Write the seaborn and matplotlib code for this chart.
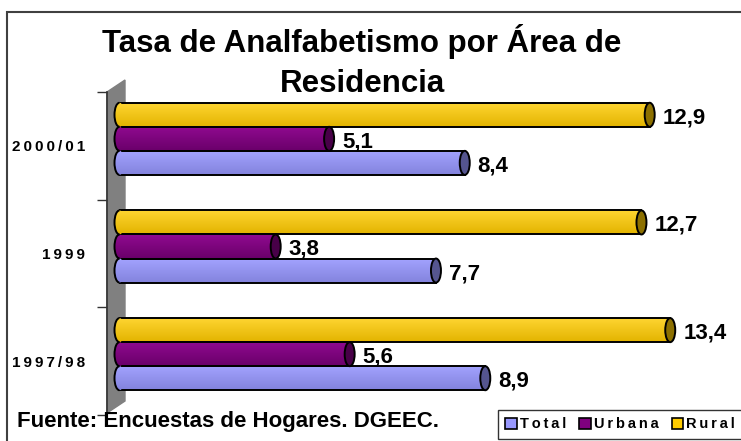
import matplotlib
matplotlib.use("Agg")
import matplotlib.pyplot as plt
import numpy as np
import pandas as pd
import seaborn as sns
from matplotlib.colors import LinearSegmentedColormap
from matplotlib.patches import Arc, Ellipse, Patch, Polygon, Rectangle
from matplotlib.transforms import offset_copy

periodos = ["2000/01", "1999", "1997/98"]
total = [8.4, 7.7, 8.9]
urbana = [5.1, 3.8, 5.6]
rural = [12.9, 12.7, 13.4]
areas = ["Total", "Urbana", "Rural"]

titulo = "Tasa de Analfabetismo por Área de\nResidencia"
fuente = "Fuente: Encuestas de Hogares. DGEEC."

df = pd.DataFrame(
    {
        "periodo": periodos * 3,
        "area": ["Total"] * 3 + ["Urbana"] * 3 + ["Rural"] * 3,
        "tasa": total + urbana + rural,
    }
)

base = {"Total": "#9999FF", "Urbana": "#800080", "Rural": "#FFCC00"}
light = {"Total": "#A3A3FF", "Urbana": "#900A90", "Rural": "#FFD633"}
dark = {"Total": "#8383DD", "Urbana": "#6A006A", "Rural": "#E3B400"}
cap = {"Total": "#55558F", "Urbana": "#480048", "Rural": "#8C7000"}
hue_order = ["Rural", "Urbana", "Total"]


def spaced(s):
    # letter-spaced labels as in the original spreadsheet chart
    return "\u2009".join(s)


sns.set_theme(style="white")
plt.rcParams["font.family"] = ["Liberation Sans", "DejaVu Sans"]
plt.rcParams["text.color"] = "black"
plt.rcParams["ytick.color"] = "black"

W, H = 741, 441
fig = plt.figure(figsize=(W / 100, H / 100), dpi=100)
ax = fig.add_axes([107 / W, 1 - 415 / H, (735 - 107) / W, (415 - 92) / H])
ax.patch.set_visible(False)

sns.barplot(
    data=df,
    x="tasa",
    y="periodo",
    hue="area",
    order=periodos,
    hue_order=hue_order,
    palette=base,
    orient="h",
    width=0.67,
    saturation=1,
    edgecolor="black",
    linewidth=1.4,
    legend=False,
    ax=ax,
)

px = 41.1  # pixels per unit
xmin = -12.5 / px
xmax = (735 - 119.5) / px
cap_w = 10 / px
shift = offset_copy(ax.transData, fig=fig, x=0, y=7, units="dots")
lab_tr = offset_copy(ax.transData, fig=fig, x=13, y=4, units="dots")

for area, cont in zip(hue_order, ax.containers):
    cmap = LinearSegmentedColormap.from_list(area, [light[area], dark[area]])
    grad = np.linspace(0, 1, 64).reshape(-1, 1)
    for bar in cont.patches:
        x0, y0 = bar.get_x(), bar.get_y()
        w, h = bar.get_width(), bar.get_height()
        yc = y0 + h / 2
        bar.set_transform(shift)
        z = bar.get_zorder()
        img = ax.imshow(grad, cmap=cmap, extent=(x0, x0 + w, y0 + h, y0),
                        aspect="auto", transform=shift, zorder=z - 0.1)
        img.set_clip_path(bar)
        bar.set_facecolor("none")
        # rounded left end
        left = Ellipse((x0, yc), cap_w, h, facecolor="none", edgecolor="none",
                       transform=shift, zorder=z + 0.1)
        ax.add_patch(left)
        limg = ax.imshow(grad, cmap=cmap, extent=(x0 - cap_w, x0 + cap_w, y0 + h, y0),
                         aspect="auto", transform=shift, zorder=z + 0.1)
        limg.set_clip_path(left)
        ax.add_patch(Arc((x0, yc), cap_w, h, theta1=90, theta2=270,
                         edgecolor="black", linewidth=1.4, transform=shift,
                         zorder=z + 0.2))
        # right end cap
        ax.add_patch(Ellipse((x0 + w, yc), cap_w, h, facecolor=cap[area],
                             edgecolor="black", linewidth=1.4, transform=shift,
                             zorder=z + 0.2))
        ax.text(x0 + w, yc, f"{w:.1f}".replace(".", ","), transform=lab_tr,
                ha="left", va="center", fontsize=16, fontweight="bold",
                color="black")

ax.set_xlim(xmin, xmax)
ax.set_ylim(2.5, -0.5)
ax.set_xlabel("")
ax.set_ylabel("")
ax.set_xticks([])
ax.set_yticks(range(len(periodos)))
ax.set_yticklabels([spaced(p) for p in periodos], fontsize=11, fontweight="bold")
ax.set_yticks(np.arange(-0.5, len(periodos), 1.0), minor=True)
ax.tick_params(axis="y", which="major", length=0, pad=16, colors="black")
ax.tick_params(axis="y", which="minor", length=7, width=1, color="#333333", left=True)
for side in ["top", "right", "bottom"]:
    ax.spines[side].set_visible(False)
ax.spines["left"].set_color("#333333")
ax.spines["left"].set_linewidth(1.2)

# grey side wall
wall = Polygon(
    [(107 / W, 1 - 92 / H), (125 / W, 1 - 80 / H),
     (125 / W, 1 - 401 / H), (107 / W, 1 - 413 / H)],
    closed=True, transform=fig.transFigure, facecolor="#808080",
    edgecolor="#808080", zorder=-1,
)
fig.patches.append(wall)

# frame around the chart
fig.patches.append(
    Rectangle((7 / W, -0.05), 1.1, 1.05 - 12 / H, transform=fig.transFigure,
              fill=False, edgecolor="#404040", linewidth=1.5, zorder=-2)
)

fig.text(362 / W, 1 - 61.5 / H, titulo, ha="center", va="center", fontsize=22.5,
         fontweight="bold", linespacing=1.4)
fig.text(17 / W, 1 - 421 / H, fuente, ha="left", va="center", fontsize=16,
         fontweight="bold")

handles = [Patch(facecolor=base[a], edgecolor="black", linewidth=1.2) for a in areas]
leg = fig.legend(
    handles, [spaced(a) for a in areas], loc="upper left",
    bbox_to_anchor=(498 / W, 1 - 410 / H), ncol=3, frameon=True, fancybox=False,
    handlelength=0.8, handleheight=0.8, handletextpad=0.2, columnspacing=0.9,
    borderpad=0.5, borderaxespad=0, prop={"weight": "bold", "size": 10.5},
)
leg.get_frame().set_edgecolor("black")
leg.get_frame().set_linewidth(1.0)

fig.savefig("out.png", dpi=100)
